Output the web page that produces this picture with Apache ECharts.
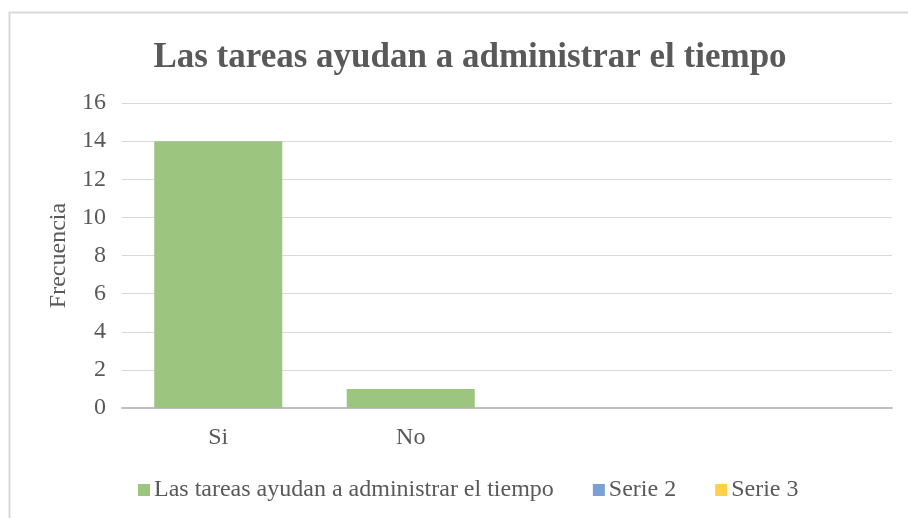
<!DOCTYPE html>
<html>
<head>
<meta charset="utf-8">
<title>Las tareas ayudan a administrar el tiempo</title>
<script src="https://cdn.jsdelivr.net/npm/echarts@6/dist/echarts.min.js"></script>
<style>
  html, body { margin: 0; padding: 0; background: #fff; }
  #chart { width: 908px; height: 518px; }
</style>
</head>
<body>
<div id="chart"></div>
<script>
// datos
var categorias = ['Si', 'No', '', ''];
var serie1 = [14, 1, null, null];
var serie2 = [null, null, null, null];
var serie3 = [null, null, null, null];
var nombres = ['Las tareas ayudan a administrar el tiempo', 'Serie 2', 'Serie 3'];
var colores = ['#9cc57f', '#7c9fd6', '#ffd04a'];

var fuente = '"Liberation Serif", "DejaVu Serif", serif';
var gris = '#595959';

var chart = echarts.init(document.getElementById('chart'));

var option = {
  animation: false,
  color: colores,
  graphic: [{
    type: 'rect',
    shape: { x: 9.5, y: 12.5, width: 1000, height: 600 },
    style: { fill: 'none', stroke: '#d9d9d9', lineWidth: 2 },
    silent: true
  }],
  title: {
    text: 'Las tareas ayudan a administrar el tiempo',
    left: 465, top: 35, textAlign: 'center',
    textStyle: { fontFamily: fuente, fontSize: 35, fontWeight: 'bold', color: gris }
  },
  legend: {
    data: nombres,
    bottom: 11,
    left: 133,
    icon: 'rect',
    itemWidth: 12,
    itemHeight: 12,
    itemGap: 39,
    textStyle: { fontFamily: fuente, fontSize: 24, color: gris, padding: [0, 0, 0, -1] }
  },
  grid: { left: 122, right: 16, top: 103, bottom: 110 },
  xAxis: {
    type: 'category',
    data: categorias,
    axisTick: { show: false },
    axisLine: { lineStyle: { color: '#bfbfbf', width: 2 } },
    axisLabel: { fontFamily: fuente, fontSize: 24, color: gris, margin: 18 }
  },
  yAxis: {
    type: 'value',
    min: 0, max: 16, interval: 2,
    name: 'Frecuencia',
    nameLocation: 'middle',
    nameGap: 50,
    nameTextStyle: { fontFamily: fuente, fontSize: 24, color: gris },
    axisLabel: { fontFamily: fuente, fontSize: 24, color: gris, margin: 16 },
    splitLine: { lineStyle: { color: '#d9d9d9', width: 1 } }
  },
  series: [
    { name: nombres[0], type: 'bar', stack: 'total', data: serie1, barCategoryGap: '33.5%' },
    { name: nombres[1], type: 'bar', stack: 'total', data: serie2 },
    { name: nombres[2], type: 'bar', stack: 'total', data: serie3 }
  ]
};

chart.setOption(option);
</script>
</body>
</html>
